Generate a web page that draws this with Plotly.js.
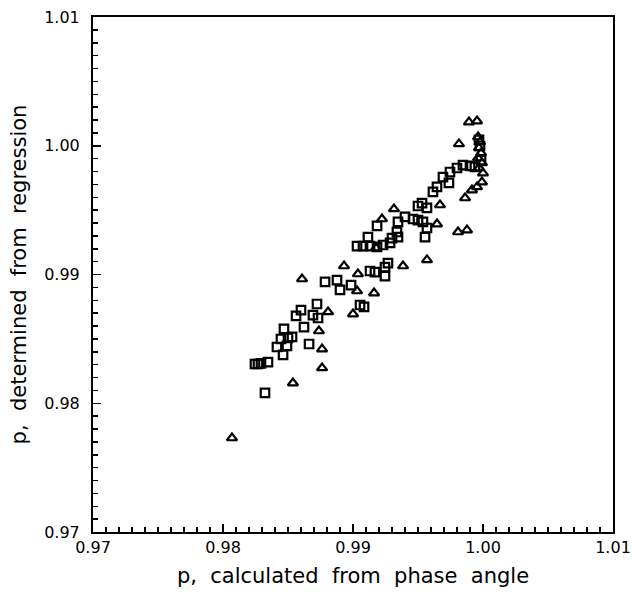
<!DOCTYPE html>
<html>
<head>
<meta charset="utf-8">
<script src="https://cdn.plot.ly/plotly-3.0.1.min.js"></script>
<style>html,body{margin:0;padding:0;background:#fff;}#chart{width:632px;height:598px;}</style>
</head>
<body>
<div id="chart"></div>
<script>
// Triangles series: p from phase angle (x) vs p from regression (y)
const triX = [0.99892,0.99954,0.99815,0.99962,0.99977,0.99969,0.99985,0.99962,0.99992,0.99969,1.00000,
  0.99992,0.99954,0.99915,0.99862,0.99669,0.99315,0.99646,0.99808,0.99877,0.99569,0.99385,0.98931,
  0.99038,0.98608,0.99162,0.99031,0.99223,0.98808,0.99000,0.98738,0.98762,0.98762,0.98538,0.98069,0.99177];
const triY = [1.00184,1.00192,1.00014,1.00068,1.00029,0.99983,0.99944,0.99905,0.99866,0.99827,0.99788,
  0.99718,0.99680,0.99656,0.99594,0.99540,0.99509,0.99392,0.99330,0.99345,0.99113,0.99066,0.99066,
  0.99004,0.98965,0.98856,0.98872,0.99431,0.98709,0.98693,0.98561,0.98421,0.98274,0.98157,0.97730,0.99206];

// Squares series
const sqX = [0.99692,0.99746,0.99800,0.99846,0.99900,0.99938,0.99969,0.99977,0.99985,0.99738,0.99646,
  0.99615,0.99531,0.99569,0.99500,0.99400,0.99462,0.99500,0.99538,0.99569,0.99554,0.99346,0.99185,
  0.99338,0.99346,0.99115,0.99031,0.99077,0.99131,0.99185,0.99231,0.99285,0.99300,0.99269,0.99246,
  0.99131,0.99169,0.99246,0.98785,0.98877,0.98900,0.98985,0.98723,0.98600,0.98562,0.98692,0.98731,
  0.99054,0.99085,0.98623,0.98469,0.98446,0.98500,0.98531,0.98415,0.98492,0.98462,0.98662,0.98346,
  0.98269,0.98246,0.98292,0.98323];
const sqY = [0.99757,0.99796,0.99827,0.99850,0.99843,0.99835,1.00045,0.99998,0.99889,0.99711,0.99680,
  0.99641,0.99555,0.99517,0.99532,0.99447,0.99431,0.99423,0.99408,0.99361,0.99291,0.99408,0.99377,
  0.99330,0.99291,0.99291,0.99221,0.99221,0.99221,0.99214,0.99229,0.99245,0.99283,0.99089,0.99058,
  0.99027,0.99019,0.98988,0.98942,0.98957,0.98880,0.98918,0.98771,0.98724,0.98678,0.98685,0.98662,
  0.98763,0.98748,0.98592,0.98577,0.98499,0.98507,0.98515,0.98437,0.98445,0.98375,0.98460,0.98320,
  0.98305,0.98305,0.98310,0.98080];

const tickVals = [0.97, 0.98, 0.99, 1.00, 1.01];
const tickText = ["0.97", "0.98", "0.99", "1.00", "1.01"];

const font = "DejaVu Sans, Liberation Sans, sans-serif";

const traces = [
  {x: triX, y: triY, type: 'scatter', mode: 'markers', name: 'triangles',
   marker: {symbol: 'triangle-up-open', size: 9, color: '#000', line: {width: 2.2, color: '#000'}}},
  {x: sqX, y: sqY, type: 'scatter', mode: 'markers', name: 'squares',
   marker: {symbol: 'square-open', size: 8.5, color: '#000', line: {width: 2.2, color: '#000'}}}
];

const axisCommon = {
  range: [0.97, 1.01], showgrid: false, zeroline: false, automargin: false,
  showline: true, linecolor: '#000', linewidth: 2, mirror: true,
  ticks: 'inside', ticklen: 8, tickwidth: 1.5, tickcolor: '#000',
  tickmode: 'array', tickvals: tickVals, ticktext: tickText,
  tickfont: {family: font, size: 16, color: '#000'},
  minor: {ticks: 'inside', ticklen: 5, tickwidth: 1.5, tickcolor: '#000', dtick: 0.001, tick0: 0.97, showgrid: false}
};

const layout = {
  width: 632, height: 598,
  margin: {l: 93, r: 19, t: 17, b: 66},
  paper_bgcolor: '#fff', plot_bgcolor: '#fff',
  showlegend: false,
  xaxis: Object.assign({}, axisCommon, {
    title: {text: 'p,  calculated  from  phase  angle', font: {family: font, size: 21, color: '#000'}, standoff: 12}
  }),
  yaxis: Object.assign({}, axisCommon, {
    ticklabelstandoff: 8,
    title: {text: 'p,  determined  from  regression', font: {family: font, size: 21, color: '#000'}, standoff: 12}
  })
};

Plotly.newPlot('chart', traces, layout, {displayModeBar: false, staticPlot: true});
</script>
</body>
</html>
